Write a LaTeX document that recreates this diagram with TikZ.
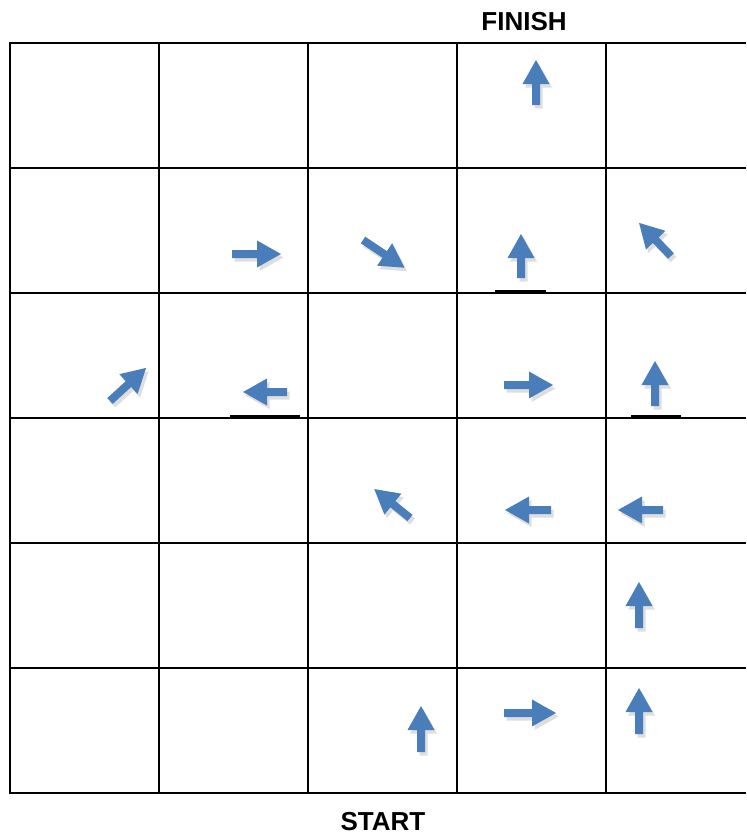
\documentclass[tikz,border=0pt]{standalone}
\usepackage{fontspec}
\setmainfont{Liberation Sans}
\definecolor{arrowblue}{RGB}{74,126,187}
\tikzset{
  x=0.75pt, y=-0.75pt,
  gridline/.style={line width=1.4pt, black},
  thickseg/.style={line width=2.4pt, black},
  lbl/.style={font=\bfseries\fontsize{19.5}{22}\selectfont, inner sep=0pt},
  arrowfill/.style={fill=arrowblue},
  shadowfill/.style={fill=black, fill opacity=0.13},
  pics/barrow/.style 2 args={code={
    \path[#2] (0,-4) -- ({#1-24},-4) -- ({#1-24},-13.5) -- (#1,0) -- ({#1-24},13.5) -- ({#1-24},4) -- (0,4) -- cycle;
  }}
}
\newcommand\blockarr[4]{%
  \pic[shift={(2.5,3.5)}, rotate=#3] at (#1,#2) {barrow={#4}{shadowfill}};
  \pic[rotate=#3] at (#1,#2) {barrow={#4}{arrowfill}};
}
\begin{document}
\begin{tikzpicture}
\useasboundingbox (0,0) rectangle (746,835);
% grid
\foreach \yy in {43,168,293,418,543,668,793}
  \draw[gridline] (9,\yy) -- (746,\yy);
\foreach \xx in {10,159,308,457,606}
  \draw[gridline] (\xx,43) -- (\xx,793);
% thicker segments
\draw[thickseg] (495,292) -- (546,292);
\draw[thickseg] (230,417) -- (300,417);
\draw[thickseg] (631,417) -- (681,417);
% labels
\node[lbl] (finish) at (524,22) {FINISH};
\node[lbl] (start) at (383,822) {START};
% arrows (tail x, tail y, visual angle, length)
\blockarr{536}{105}{90}{45}
\blockarr{232}{254}{0}{49}
\blockarr{363}{240}{-33.7}{50}
\blockarr{521}{278}{90}{44}
\blockarr{671}{256}{134}{46}
\blockarr{110}{401}{42.5}{49}
\blockarr{287}{392}{180}{44}
\blockarr{504}{385}{0}{49}
\blockarr{655}{406}{90}{45}
\blockarr{410}{518}{141}{46}
\blockarr{551}{510}{180}{46}
\blockarr{663}{510}{180}{45}
\blockarr{639}{628}{90}{46}
\blockarr{421}{752}{90}{46}
\blockarr{504}{713}{0}{52}
\blockarr{639}{734}{90}{46}
\end{tikzpicture}
\end{document}
